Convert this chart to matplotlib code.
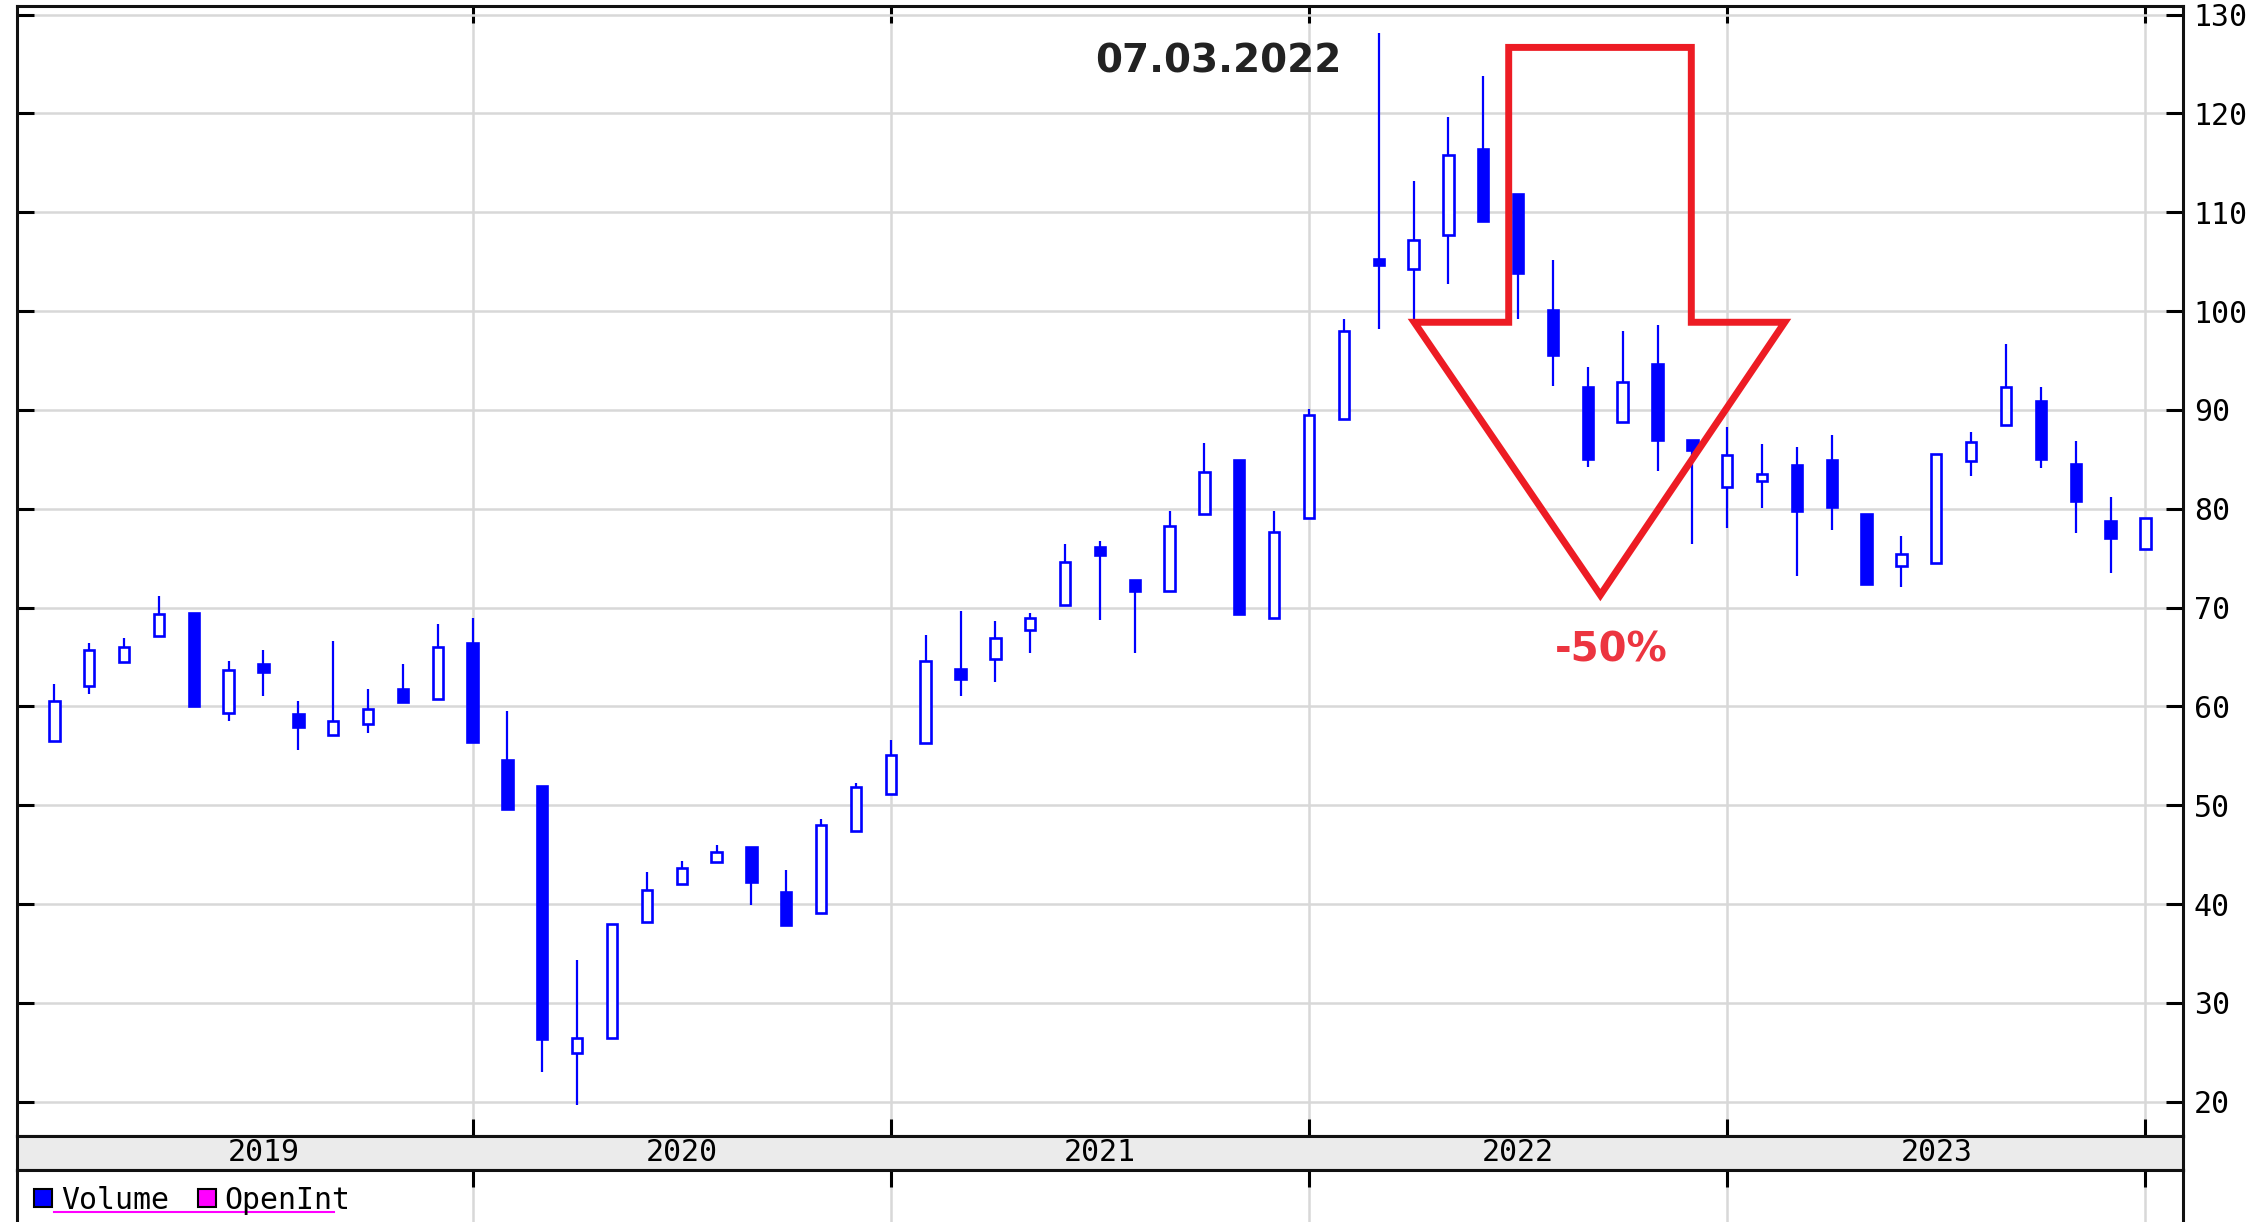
import numpy as np
import pandas as pd
import matplotlib
matplotlib.use("Agg")
import matplotlib.pyplot as plt
from matplotlib.patches import Rectangle, Polygon
from matplotlib.lines import Line2D

plt.rcParams["font.family"] = "DejaVu Sans Mono"

# monthly candles, Jan 2019 .. Jan 2024
months = pd.date_range("2019-01-01", periods=61, freq="MS")
opens = [56.5, 62.1, 64.5, 67.1, 69.5, 59.3, 64.3, 59.2, 57.1, 58.2, 61.8, 60.8,
         66.4, 54.6, 52.0, 24.9, 26.5, 38.2, 42.0, 44.3, 45.8, 41.2, 39.1, 47.4,
         51.1, 56.3, 63.8, 64.8, 67.7, 70.3, 76.1, 72.8, 71.7, 79.5, 84.9, 68.9,
         79.1, 89.1, 105.3, 104.3, 107.7, 116.4, 111.8, 100.1, 92.3, 88.8, 94.6, 87.0,
         82.2, 82.8, 84.4, 84.9, 79.5, 74.2, 74.5, 84.8, 88.5, 90.9, 84.5, 78.8,
         75.9]
highs = [62.3, 66.4, 66.9, 71.2, 69.5, 64.6, 65.7, 60.6, 66.6, 61.8, 64.3, 68.3,
         68.9, 59.5, 52.0, 34.3, 38.0, 43.2, 44.4, 46.0, 45.8, 43.5, 48.6, 52.3,
         56.6, 67.2, 69.7, 68.6, 69.5, 76.4, 76.7, 72.8, 79.8, 86.7, 84.9, 79.8,
         90.1, 99.2, 128.1, 113.2, 119.6, 123.8, 111.8, 105.2, 94.3, 98.0, 98.6, 87.0,
         88.3, 86.6, 86.3, 87.5, 79.5, 77.2, 85.5, 87.8, 96.7, 92.3, 86.9, 81.2,
         79.1]
lows = [56.5, 61.3, 64.5, 67.1, 60.0, 58.5, 61.1, 55.6, 57.1, 57.3, 60.4, 60.8,
        56.4, 49.6, 23.0, 19.7, 26.5, 38.2, 42.0, 44.3, 39.9, 37.9, 39.1, 47.4,
        51.1, 56.3, 61.1, 62.5, 65.4, 70.3, 68.7, 65.4, 71.7, 79.5, 69.4, 68.9,
        79.1, 89.1, 98.2, 99.0, 102.7, 109.1, 99.2, 92.4, 84.2, 88.8, 83.8, 76.4,
        78.1, 80.1, 73.2, 77.9, 72.4, 72.1, 74.5, 83.3, 88.5, 84.1, 77.5, 73.5,
        75.9]
closes = [60.6, 65.7, 66.0, 69.4, 60.0, 63.7, 63.5, 57.9, 58.5, 59.7, 60.4, 66.0,
          56.4, 49.6, 26.4, 26.5, 38.0, 41.4, 43.7, 45.3, 42.2, 37.9, 48.0, 51.9,
          55.1, 64.6, 62.8, 66.9, 68.9, 74.6, 75.3, 71.7, 78.3, 83.7, 69.4, 77.7,
          89.5, 98.0, 104.7, 107.2, 115.8, 109.1, 103.9, 95.6, 85.0, 92.8, 87.0, 85.9,
          85.4, 83.5, 79.8, 80.2, 72.4, 75.4, 85.5, 86.8, 92.3, 85.0, 80.8, 77.0,
          79.1]

years = [2019, 2020, 2021, 2022, 2023]
price_ticks = list(range(20, 131, 10))

event_label = "07.03.2022"
drop_label = "-50%"
# red arrow outline, in (month index, price)
arrow_x = [41.73, 46.97, 46.97, 49.65, 44.36, 39.02, 41.73]
arrow_y = [126.68, 126.68, 98.87, 98.87, 71.27, 98.87, 98.87]

W, H = 2257, 1222
blue = "#0000ff"
grid_c = "#d8d8d8"
x = np.arange(len(months))
xlim = (-1.073, 61.07)
year_start = [int(np.where(months == pd.Timestamp(f"{y}-01-01"))[0][0]) for y in years]
bounds = year_start[1:] + [year_start[-1] + 12]
mids = [s + 6 for s in year_start]

fig = plt.figure(figsize=(W / 100, H / 100), dpi=100)
left, width = 17 / W, (2182.7 - 17) / W
ax = fig.add_axes([left, 1 - 1135.5 / H, width, (1135.5 - 5.5) / H])

w = 0.297
for xi, o, h, l, c in zip(x, opens, highs, lows, closes):
    ax.vlines(xi, l, h, color=blue, lw=1.6, zorder=2)
    up = c >= o
    ax.add_patch(Rectangle((xi - w / 2, min(o, c)), w, abs(c - o),
                           facecolor="white" if up else blue, edgecolor=blue,
                           lw=1.9, zorder=3))

ax.add_patch(Polygon(np.column_stack([arrow_x, arrow_y]), closed=True, fill=False,
                     edgecolor="#ed1c24", lw=5, joinstyle="miter", zorder=5))
ax.text(33.39, 124.15, event_label, ha="center", va="baseline", fontsize=28,
        fontweight="bold", family="DejaVu Sans", color="#222222", zorder=6)
ax.text(44.67, 64.55, drop_label, ha="center", va="baseline", fontsize=29,
        fontweight="bold", family="DejaVu Sans", color="#ec3540", zorder=6)

ax.set_xlim(*xlim)
ax.set_ylim(16.59, 130.92)
ax.set_yticks(price_ticks)
ax.set_xticks(bounds)
ax.grid(True, color=grid_c, lw=1.8)
ax.set_axisbelow(True)
ax.tick_params(axis="y", left=True, right=True, labelleft=False, labelright=True,
               direction="in", length=12, width=2.2, pad=8, labelsize=21.5)
ax.tick_params(axis="x", top=True, bottom=True, direction="in", length=12,
               width=2.2, labelbottom=False)
for s in ax.spines.values():
    s.set_linewidth(2.2)
    s.set_color("#111111")

# year band
band = fig.add_axes([left, 1 - 1170 / H, width, 34.5 / H])
band.set_xlim(*xlim)
band.set_ylim(0, 1)
band.set_facecolor("#ebebeb")
band.set_xticks([])
band.set_yticks([])
for m, y in zip(mids, years):
    band.text(m, 0.5, str(y), ha="center", va="center", fontsize=21.5)
for s in band.spines.values():
    s.set_linewidth(2.2)
    s.set_color("#111111")

# volume panel (cut off)
low = fig.add_axes([left, -0.1, width, 0.1 + (1 - 1170 / H)])
low.set_xlim(*xlim)
low.set_xticks(bounds)
low.set_yticks([])
low.grid(True, axis="x", color=grid_c, lw=1.8)
low.tick_params(axis="x", top=True, bottom=False, direction="in", length=12,
                width=2.2, labelbottom=False)
low.spines["bottom"].set_visible(False)
for s in low.spines.values():
    s.set_linewidth(2.2)
    s.set_color("#111111")

def fx(px):
    return px / W

def fy(py):
    return 1 - py / H

fig.add_artist(Line2D([fx(54), fx(334)], [fy(1212), fy(1212)], color="#ff00ff", lw=1.5))
fig.add_artist(Rectangle((fx(34), fy(1207)), 18 / W, 18 / H, transform=fig.transFigure,
                         facecolor=blue, edgecolor="black", lw=1.5))
fig.text(fx(61), fy(1209), "Volume", fontsize=21.5, va="baseline")
fig.add_artist(Rectangle((fx(198), fy(1207)), 18 / W, 18 / H, transform=fig.transFigure,
                         facecolor="#ff00ff", edgecolor="black", lw=1.5))
fig.text(fx(224), fy(1209), "OpenInt", fontsize=21.5, va="baseline")

fig.savefig("out.png", dpi=100)
